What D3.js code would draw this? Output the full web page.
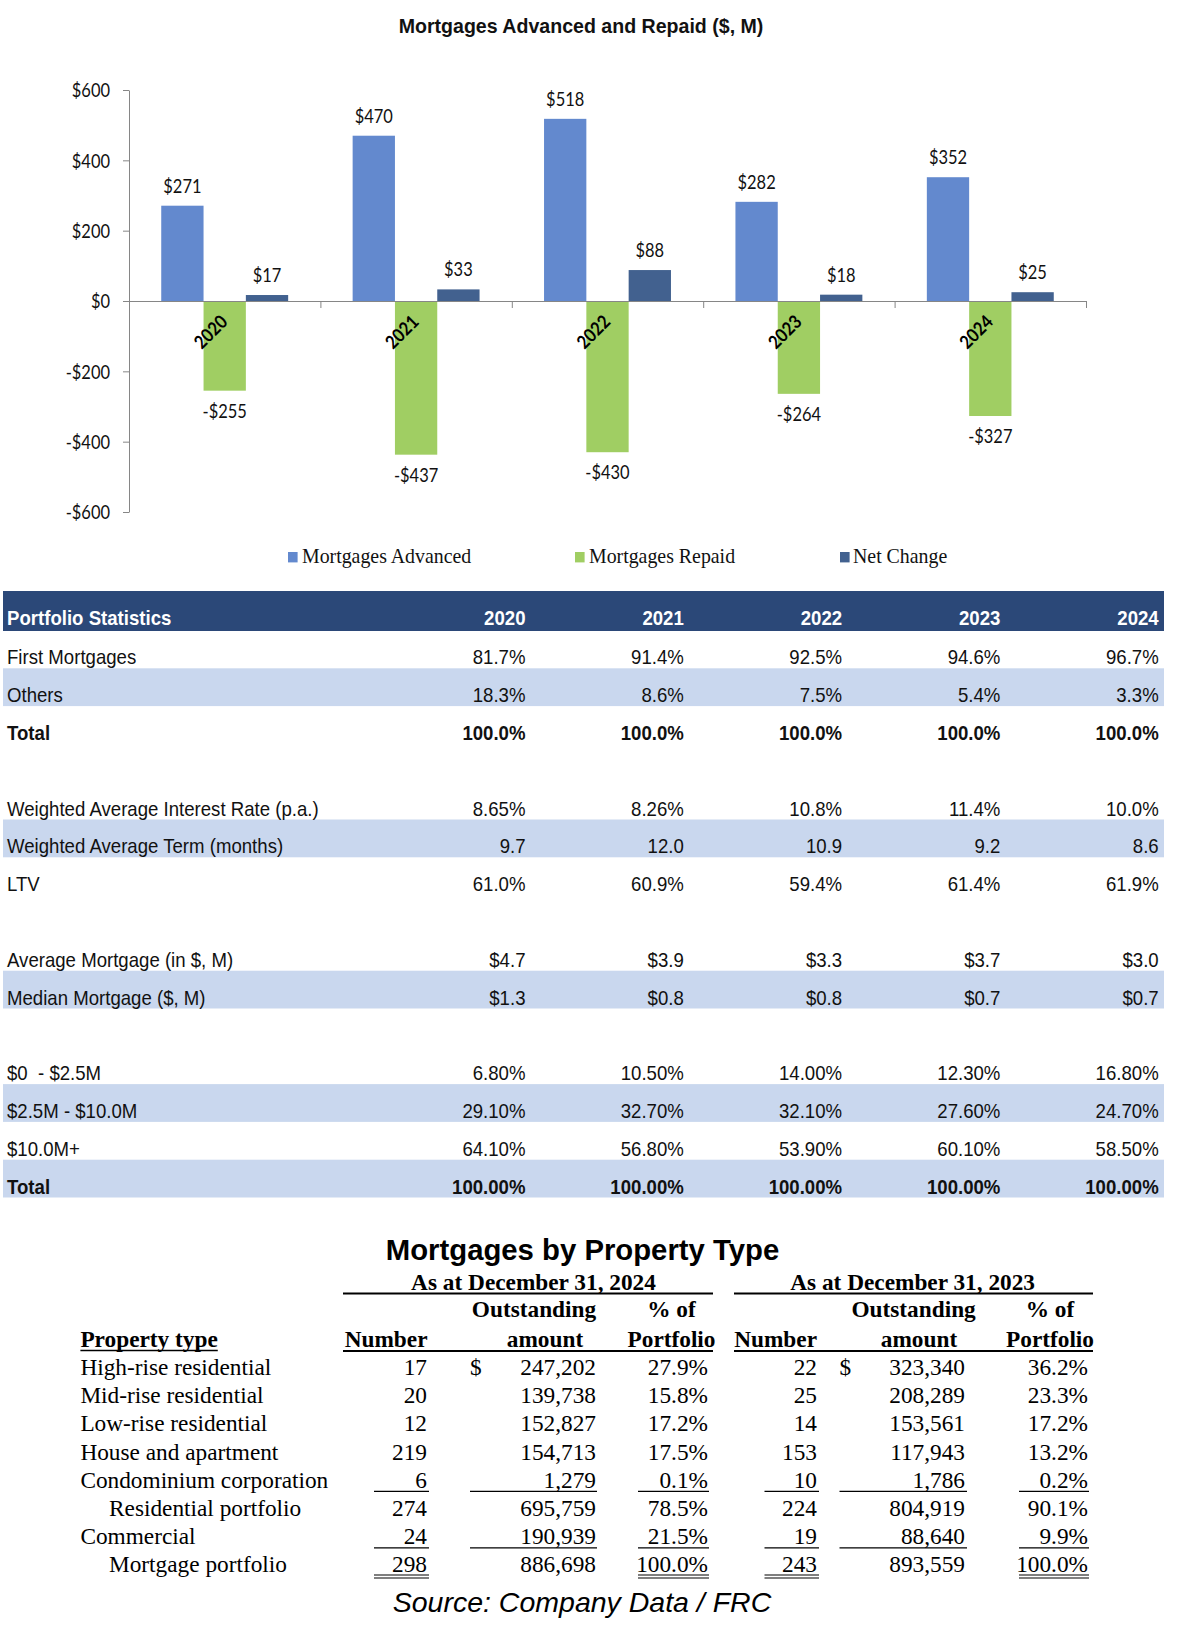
<!DOCTYPE html>
<html><head><meta charset="utf-8">
<script src="https://cdn.jsdelivr.net/npm/d3@7"></script>
<style>body{margin:0;background:#fff} svg{display:block}</style>
</head><body>
<svg id="c" width="1182" height="1646"></svg>
<script>
// ---------- DATA ----------
const years = ["2020","2021","2022","2023","2024"];
const seriesNames = ["Mortgages Advanced","Mortgages Repaid","Net Change"];
const advanced = [271,470,518,282,352];
const repaid = [-255,-437,-430,-264,-327];
const netChange = [17,33,88,18,25];
const yTicks = [600,400,200,0,-200,-400,-600];
const chartTitle = "Mortgages Advanced and Repaid ($, M)";

const statHeader = "Portfolio Statistics";
const statLabels = ["First Mortgages","Others","Total","","Weighted Average Interest Rate (p.a.)","Weighted Average Term (months)","LTV","","Average Mortgage (in $, M)","Median Mortgage ($, M)","","$0  - $2.5M","$2.5M - $10.0M","$10.0M+","Total"];
const statValues = [
  ["81.7%","91.4%","92.5%","94.6%","96.7%"],
  ["18.3%","8.6%","7.5%","5.4%","3.3%"],
  ["100.0%","100.0%","100.0%","100.0%","100.0%"],
  [],
  ["8.65%","8.26%","10.8%","11.4%","10.0%"],
  ["9.7","12.0","10.9","9.2","8.6"],
  ["61.0%","60.9%","59.4%","61.4%","61.9%"],
  [],
  ["$4.7","$3.9","$3.3","$3.7","$3.0"],
  ["$1.3","$0.8","$0.8","$0.7","$0.7"],
  [],
  ["6.80%","10.50%","14.00%","12.30%","16.80%"],
  ["29.10%","32.70%","32.10%","27.60%","24.70%"],
  ["64.10%","56.80%","53.90%","60.10%","58.50%"],
  ["100.00%","100.00%","100.00%","100.00%","100.00%"]
];
const statBanded = [1,5,9,12,14];
const statBold = [2,14];

const propTitle = "Mortgages by Property Type";
const propGroups = ["As at December 31, 2024","As at December 31, 2023"];
const propTypes = ["High-rise residential","Mid-rise residential","Low-rise residential","House and apartment","Condominium corporation","Residential portfolio","Commercial","Mortgage portfolio"];
const propIndented = [5,7];
const number2024 = ["17","20","12","219","6","274","24","298"];
const amount2024 = ["247,202","139,738","152,827","154,713","1,279","695,759","190,939","886,698"];
const pct2024 = ["27.9%","15.8%","17.2%","17.5%","0.1%","78.5%","21.5%","100.0%"];
const number2023 = ["22","25","14","153","10","224","19","243"];
const amount2023 = ["323,340","208,289","153,561","117,943","1,786","804,919","88,640","893,559"];
const pct2023 = ["36.2%","23.3%","17.2%","13.2%","0.2%","90.1%","9.9%","100.0%"];
const sourceText = "Source: Company Data / FRC";

// ---------- SETUP ----------
const svg = d3.select("#c");
svg.append("rect").attr("width",1182).attr("height",1646).attr("fill","#fff");
const SANS = "'Liberation Sans', Arial, sans-serif";
const SERIF = "'Liberation Serif','Times New Roman',serif";
const CAL = "Lato, 'Open Sans', sans-serif";
function sq(sel,k){
  sel.each(function(){
    const w = this.getComputedTextLength();
    if (w > 0) d3.select(this).attr("textLength",(w*k).toFixed(2)).attr("lengthAdjust","spacingAndGlyphs");
  });
  return sel;
}

// ---------- CHART ----------
const colors = d3.scaleOrdinal().domain(seriesNames).range(["#6389CE","#A0CE63","#42618F"]);
const seriesValues = [advanced, repaid, netChange];
const bars = years.flatMap((yr,i) => seriesNames.map((s,j) => ({yr, s, v: seriesValues[j][i]})));

const x0 = d3.scaleBand().domain(years).range([129,1086]);
const x1 = d3.scaleBand().domain(seriesNames).range([0, x0.bandwidth()]).paddingInner(0).paddingOuter(0.762);
const y = d3.scaleLinear().domain([-600,600]).range([512,90]);

sq(svg.append("text").attr("x",581).attr("y",33).attr("text-anchor","middle")
  .attr("font-family",SANS).attr("font-weight","bold").attr("font-size",21).attr("fill","#111")
  .text(chartTitle), 0.932);

svg.append("g").selectAll("rect").data(bars).join("rect")
  .attr("x", d => x0(d.yr) + x1(d.s))
  .attr("width", x1.bandwidth())
  .attr("y", d => y(Math.max(0,d.v)))
  .attr("height", d => Math.abs(y(d.v) - y(0)))
  .attr("fill", d => colors(d.s));

const fmt = v => (v < 0 ? "-$" : "$") + Math.abs(v);
sq(svg.append("g").selectAll("text").data(bars).join("text")
  .attr("x", d => x0(d.yr) + x1(d.s) + x1.bandwidth()/2)
  .attr("y", d => d.v >= 0 ? y(d.v) - 13 : y(d.v) + 27)
  .attr("text-anchor","middle")
  .attr("font-family",CAL).attr("font-size",18.5).attr("fill","#111")
  .text(d => fmt(d.v)), 0.89);

// y axis
const gy = svg.append("g").attr("transform","translate(129,0)")
  .call(d3.axisLeft(y).tickValues(yTicks).tickSize(6).tickSizeOuter(0).tickPadding(13).tickFormat(fmt));
gy.select(".domain").attr("stroke","#868686");
gy.selectAll(".tick line").attr("stroke","#868686");
sq(gy.selectAll(".tick text").attr("font-family",CAL).attr("font-size",18.5).attr("fill","#111").attr("dy","0.36em"), 0.89);

// x axis (category axis at zero)
const gx = svg.append("g");
gx.append("line").attr("x1",x0.range()[0]).attr("x2",x0.range()[1]).attr("y1",y(0)+0.5).attr("y2",y(0)+0.5).attr("stroke","#868686");
gx.selectAll("line.t").data(years).join("line").attr("class","t")
  .attr("x1", d => x0(d)+x0.bandwidth()+0.5).attr("x2", d => x0(d)+x0.bandwidth()+0.5)
  .attr("y1", y(0)).attr("y2", y(0)+7).attr("stroke","#868686");
sq(gx.selectAll("text").data(years).join("text")
  .attr("transform", d => `translate(${x0(d)+x0.bandwidth()/2+4},${y(0)+22}) rotate(-45)`)
  .attr("text-anchor","end")
  .attr("font-family",CAL).attr("font-weight","bold").attr("font-size",18.5).attr("fill","#000")
  .text(d => d), 0.89);

// legend
const legSqX = [288,575,840], legTxX = [302,589,853];
const lg = svg.append("g");
lg.selectAll("rect").data(seriesNames).join("rect")
  .attr("x",(d,i)=>legSqX[i]).attr("y",552).attr("width",9.6).attr("height",10.4).attr("fill",d=>colors(d));
sq(lg.selectAll("text").data(seriesNames).join("text")
  .attr("x",(d,i)=>legTxX[i]).attr("y",562.5)
  .attr("font-family",SERIF).attr("font-size",21).attr("fill","#111").text(d=>d), 0.945);

// ---------- PORTFOLIO STATISTICS TABLE ----------
const tL = 3, tW = 1161, rowH = 37.8, row0 = 630.5;
const colRight = years.map((d,j) => 525.5 + j*158.3);
const st = svg.append("g");
st.append("rect").attr("x",tL).attr("y",591).attr("width",tW).attr("height",40).attr("fill","#2B4878");
sq(st.append("text").attr("x",7).attr("y",625).attr("font-family",SANS).attr("font-weight","bold")
  .attr("font-size",21).attr("fill","#fff").text(statHeader), 0.886);
sq(st.selectAll("text.yh").data(years).join("text").attr("class","yh")
  .attr("x",(d,j)=>colRight[j]).attr("y",625).attr("text-anchor","end")
  .attr("font-family",SANS).attr("font-weight","bold").attr("font-size",21).attr("fill","#fff").text(d=>d), 0.886);
st.selectAll("rect.band").data(statBanded).join("rect").attr("class","band")
  .attr("x",tL).attr("y",d=>row0+d*rowH).attr("width",tW).attr("height",rowH).attr("fill","#C9D7EE");
statLabels.forEach((lab,i) => {
  const by = row0 + (i+1)*rowH - 4;
  const bold = statBold.includes(i) ? "bold" : "normal";
  if (lab) sq(st.append("text").attr("x",7).attr("y",by).style("white-space","pre")
    .attr("font-family",SANS).attr("font-weight",bold).attr("font-size",21).attr("fill","#111").text(lab), 0.886);
  statValues[i].forEach((v,j) => {
    sq(st.append("text").attr("x",colRight[j]).attr("y",by).attr("text-anchor","end")
      .attr("font-family",SANS).attr("font-weight",bold).attr("font-size",21).attr("fill","#111").text(v), 0.886);
  });
});

// ---------- PROPERTY TYPE TABLE ----------
const pt = svg.append("g");
const FS = 23.3;
pt.append("text").attr("x",582.5).attr("y",1260).attr("text-anchor","middle")
  .attr("font-family",SANS).attr("font-weight","bold").attr("font-size",29.3).attr("fill","#000").text(propTitle);

const groups = [
  {title: propGroups[0], center: 533.5, line:[343,713], outC: 534, amtC: 545, pctC: 671.5, numR: 427.5,
   num: number2024, amt: amount2024, pct: pct2024, numRight: 427, dollarX: 470, amtRight: 596, pctRight: 708,
   uNum:[374,429], uAmt:[470,597], uPct:[638,709]},
  {title: propGroups[1], center: 912.6, line:[734,1093], outC: 913.6, amtC: 919, pctC: 1050, numR: 817,
   num: number2023, amt: amount2023, pct: pct2023, numRight: 817, dollarX: 839.5, amtRight: 965, pctRight: 1088,
   uNum:[764.5,819], uAmt:[839.5,967], uPct:[1019,1089]}
];
const hdr = (x,yy,t,anchor) => pt.append("text").attr("x",x).attr("y",yy).attr("text-anchor",anchor)
  .attr("font-family",SERIF).attr("font-weight","bold").attr("font-size",FS).attr("fill","#000").text(t);
const hline = (xa,xb,yy,w) => pt.append("line").attr("x1",xa).attr("x2",xb).attr("y1",yy).attr("y2",yy).attr("stroke","#000").attr("stroke-width",w);

groups.forEach(g => {
  hdr(g.center,1290,g.title,"middle");
  hline(g.line[0],g.line[1],1293.5,2);
  hdr(g.outC,1316.7,"Outstanding","middle");
  hdr(g.pctC,1316.7,"% of","middle");
  hdr(g.numR,1346.7,"Number","end");
  hdr(g.amtC,1346.7,"amount","middle");
  hdr(g.pctC,1346.7,"Portfolio","middle");
  hline(g.line[0],g.line[1],1351,2);
});
const ptHead = hdr(80.4,1346.7,"Property type","start");
hline(80.4, 80.4 + ptHead.node().getComputedTextLength(), 1350.5, 1.5);

const rowY = i => 1375 + i*28.2;
const cell = (x,yy,t,anchor) => pt.append("text").attr("x",x).attr("y",yy).attr("text-anchor",anchor)
  .attr("font-family",SERIF).attr("font-size",FS).attr("fill","#000").text(t);
propTypes.forEach((t,i) => {
  cell(propIndented.includes(i) ? 109 : 80.4, rowY(i), t, "start");
  groups.forEach(g => {
    cell(g.numRight, rowY(i), g.num[i], "end");
    if (i === 0) cell(g.dollarX, rowY(i), "$", "start");
    cell(g.amtRight, rowY(i), g.amt[i], "end");
    cell(g.pctRight, rowY(i), g.pct[i], "end");
  });
});
groups.forEach(g => {
  [4,6].forEach(i => {
    const yy = rowY(i) + 3.6;
    hline(g.uNum[0],g.uNum[1],yy,1.2); hline(g.uAmt[0],g.uAmt[1],yy,1.2); hline(g.uPct[0],g.uPct[1],yy,1.2);
  });
  [2.6,5.6].forEach(off => {
    const yy = rowY(7) + off;
    hline(g.uNum[0],g.uNum[1],yy,1.1); hline(g.uPct[0],g.uPct[1],yy,1.1);
  });
});

svg.append("text").attr("x",582).attr("y",1611.5).attr("text-anchor","middle")
  .attr("font-family",SANS).attr("font-style","italic").attr("font-size",28.5).attr("fill","#000").text(sourceText);
</script>
</body></html>
